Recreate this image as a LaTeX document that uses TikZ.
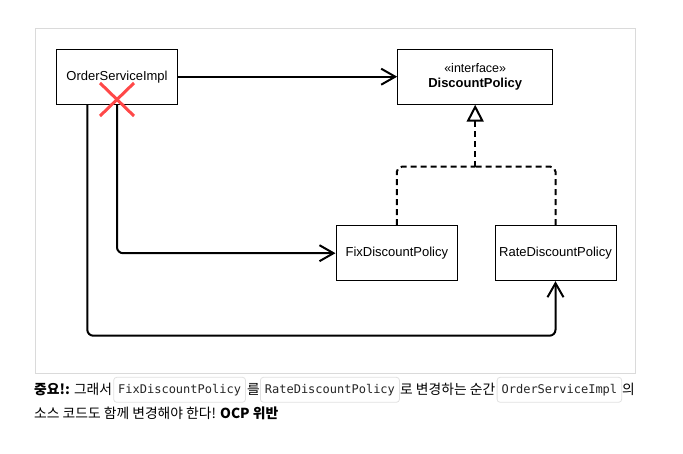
\documentclass[tikz,border=0pt]{standalone}
\usepackage{fontspec}
\setmainfont{Liberation Sans}
\newfontfamily\krfont{Noto Sans CJK KR}
\newfontfamily\codefont{DejaVu Sans Mono}
\usetikzlibrary{arrows.meta}
\definecolor{xred}{RGB}{255,72,72}
\definecolor{framegray}{RGB}{218,218,218}
\definecolor{codegray}{RGB}{225,225,225}
\begin{document}
\begin{tikzpicture}[x=1pt,y=-1pt,
  umlbox/.style={draw=black, line width=1pt, fill=white, inner sep=0pt,
    minimum height=55pt, font=\fontsize{13}{15.6}\selectfont, align=center},
  conn/.style={line width=2pt, rounded corners=6pt,
    -{Straight Barb[length=14pt,width=16pt]}},
  realize/.style={line width=2pt, rounded corners=5pt, dash pattern=on 6pt off 4pt},
  realizetip/.style={realize, -{Triangle[open,length=17pt,width=17pt]}},
  codebox/.style={draw=codegray, line width=0.8pt, rounded corners=3pt, fill=white,
    minimum height=25pt, inner xsep=4.5pt, inner ysep=0pt, anchor=west,
    font=\codefont\fontsize{12}{14}\selectfont, text=black!85},
  krtext/.style={anchor=base west, inner sep=0pt, text=black,
    font=\krfont\fontsize{13.8}{16}\selectfont}
]
\useasboundingbox (0,0) rectangle (683,453);
\draw[framegray, line width=1pt] (35,28) rectangle (635,373);

\node[umlbox, minimum width=121.4pt] (osi) at (117,76.7) {OrderServiceImpl};
\node[umlbox, minimum width=155pt] (dp) at (475.2,76.7)
  {\fontsize{12.5}{14}\selectfont «interface»\\[-1pt]\textbf{DiscountPolicy}};
\node[umlbox, minimum width=121.7pt] (fix) at (396.85,253.2) {FixDiscountPolicy};
\node[umlbox, minimum width=121pt] (rate) at (555.5,253.2) {RateDiscountPolicy};

\draw[conn] (osi.east) -- (dp.west);
\draw[conn] (osi.south) |- (fix.west);
\draw[conn] ([xshift=-29.7pt]osi.south) -- ++(0,231) -| (rate.south);

\coordinate (j) at (475.2,166.7);
\draw[realize] (fix.north) |- (j);
\draw[realize] (rate.north) |- (j);
\draw[realizetip] (j) -- (dp.south);

\draw[xred, line width=3pt] (100,83) -- (134,116);
\draw[xred, line width=3pt] (134,83) -- (100,116);

\node[krtext] (t1) at (34,394) {\textbf{중요!:} 그래서};
\node[codebox] (c1) at (113.3,389.8) {FixDiscountPolicy};
\node[krtext] (t2) at (247,394) {를};
\node[codebox] (c2) at (260,389.8) {RateDiscountPolicy};
\node[krtext] (t3) at (400,394) {로 변경하는 순간};
\node[codebox] (c3) at (496.7,389.8) {OrderServiceImpl};
\node[krtext] (t4) at (622,394) {의};
\node[krtext] (t5) at (34,418) {소스 코드도 함께 변경해야 한다! \textbf{OCP 위반}};
\end{tikzpicture}
\end{document}
